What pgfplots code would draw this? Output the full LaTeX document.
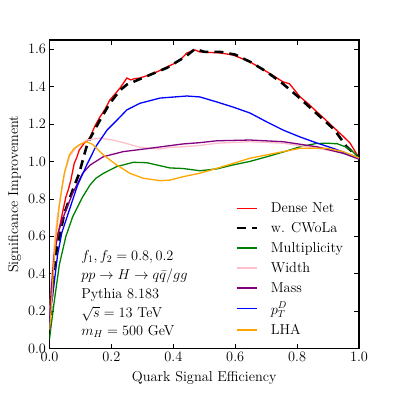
\documentclass[border=0pt]{standalone}
\usepackage{pgfplots}
\pgfplotsset{compat=1.18}

\definecolor{mplgreen}{HTML}{008000}
\definecolor{mplpink}{HTML}{FFC0CB}
\definecolor{mplpurple}{HTML}{800080}
\definecolor{mplorange}{HTML}{FFA500}

\newcommand{\bigfont}{\fontsize{14.4}{17}\selectfont}

\begin{document}
\begin{tikzpicture}
  \begin{axis}[
    scale only axis,
    width=309.5bp, height=308.7bp,
    xmin=0, xmax=1, ymin=0, ymax=1.648,
    xtick={0,0.2,...,1.0}, ytick={0,0.2,...,1.6},
    xticklabel style={/pgf/number format/.cd, fixed, fixed zerofill, precision=1},
    yticklabel style={/pgf/number format/.cd, fixed, fixed zerofill, precision=1},
    tick align=inside, major tick length=5bp,
    axis line style={line width=1.2pt},
    tick style={line width=0.6pt, black},
    xlabel={Quark Signal Efficiency},
    ylabel={Significance Improvement},
    xlabel style={yshift=-3bp},
    tick label style={font=\bigfont},
    label style={font=\bigfont},
    legend style={draw=none, fill=none, at={(rel axis cs:0.59,0.487)}, anchor=north west,
      font=\bigfont, row sep=4.5bp,
      /tikz/every odd column/.append style={column sep=11bp}},
    legend cell align=left,
    legend image code/.code={\draw[#1] (0bp,0bp) -- (20bp,0bp);},
    every axis plot/.append style={line width=1.3pt},
  ]
    % Dense Net
    \addplot[red] coordinates {
      (0,0.12) (0.005,0.3) (0.012,0.45) (0.02,0.55) (0.03,0.63) (0.037,0.686)
      (0.045,0.75) (0.053,0.81) (0.061,0.85) (0.069,0.9) (0.08,0.99) (0.088,1.02)
      (0.096,1.06) (0.112,1.097) (0.122,1.11) (0.131,1.13) (0.147,1.19) (0.163,1.237)
      (0.18,1.28) (0.195,1.328) (0.212,1.36) (0.228,1.392) (0.25,1.445) (0.262,1.435)
      (0.275,1.442) (0.292,1.445) (0.31,1.455) (0.324,1.461) (0.35,1.48) (0.38,1.504)
      (0.4,1.52) (0.422,1.541) (0.444,1.579) (0.47,1.595) (0.486,1.584) (0.51,1.582)
      (0.551,1.579) (0.593,1.568) (0.62,1.55) (0.648,1.531) (0.675,1.505) (0.703,1.478)
      (0.73,1.45) (0.755,1.424) (0.775,1.415) (0.81,1.344) (0.838,1.305) (0.864,1.264)
      (0.89,1.225) (0.916,1.184) (0.945,1.14) (0.971,1.098) (1.0,1.018)
    };
    \addlegendentry{Dense Net}
    % w. CWoLa
    \addplot[black, line width=2.6pt, dash pattern=on 9bp off 6bp] coordinates {
      (0,0.1) (0.01,0.35) (0.02,0.5) (0.035,0.62) (0.048,0.723) (0.075,0.847)
      (0.096,0.936) (0.112,1.034) (0.123,1.097) (0.14,1.15) (0.163,1.22) (0.195,1.31)
      (0.228,1.38) (0.25,1.41) (0.3,1.445) (0.38,1.5) (0.44,1.56) (0.47,1.6)
      (0.5,1.585) (0.55,1.585) (0.6,1.57) (0.65,1.53) (0.7,1.48) (0.75,1.42)
      (0.8,1.35) (0.86,1.26) (0.92,1.17) (0.96,1.078) (1.0,1.02)
    };
    \addlegendentry{w. CWoLa}
    % Multiplicity
    \addplot[mplgreen] coordinates {
      (0,0.05) (0.005,0.12) (0.016,0.26) (0.032,0.45) (0.053,0.6) (0.075,0.705)
      (0.107,0.81) (0.131,0.874) (0.15,0.91) (0.174,0.936) (0.217,0.972) (0.271,0.995)
      (0.314,0.993) (0.389,0.965) (0.431,0.962) (0.486,0.95) (0.541,0.96) (0.593,0.981)
      (0.648,1.0) (0.703,1.025) (0.755,1.05) (0.81,1.078) (0.86,1.095) (0.896,1.097)
      (0.93,1.094) (0.96,1.075) (0.98,1.052) (1.0,1.018)
    };
    \addlegendentry{Multiplicity}
    % Width
    \addplot[mplpink] coordinates {
      (0,0.15) (0.005,0.35) (0.015,0.55) (0.025,0.7) (0.04,0.85) (0.05,0.95)
      (0.066,1.03) (0.088,1.077) (0.12,1.114) (0.163,1.124) (0.205,1.114) (0.25,1.095)
      (0.292,1.075) (0.325,1.07) (0.357,1.066) (0.389,1.075) (0.431,1.078) (0.486,1.085)
      (0.541,1.097) (0.648,1.105) (0.755,1.097) (0.864,1.07) (0.949,1.045) (1.0,1.018)
    };
    \addlegendentry{Width}
    % Mass
    \addplot[mplpurple] coordinates {
      (0,0.1) (0.005,0.3) (0.015,0.5) (0.028,0.62) (0.04,0.68) (0.053,0.74)
      (0.075,0.83) (0.107,0.936) (0.131,0.98) (0.15,1.0) (0.174,1.025) (0.238,1.052)
      (0.325,1.07) (0.389,1.084) (0.431,1.093) (0.486,1.1) (0.541,1.11) (0.648,1.114)
      (0.755,1.105) (0.864,1.078) (0.949,1.043) (1.0,1.012)
    };
    \addlegendentry{Mass}
    % pT^D
    \addplot[blue] coordinates {
      (0,0.1) (0.003,0.2) (0.01,0.28) (0.026,0.5) (0.04,0.62) (0.064,0.74)
      (0.09,0.87) (0.12,0.98) (0.15,1.08) (0.186,1.167) (0.218,1.22) (0.25,1.275)
      (0.292,1.31) (0.357,1.338) (0.444,1.349) (0.486,1.344) (0.541,1.317) (0.593,1.29)
      (0.648,1.258) (0.703,1.21) (0.755,1.167) (0.81,1.13) (0.864,1.098) (0.916,1.07)
      (1.0,1.018)
    };
    \addlegendentry{$p_T^D$}
    % LHA
    \addplot[mplorange] coordinates {
      (0,0.1) (0.003,0.15) (0.007,0.25) (0.012,0.4) (0.018,0.55) (0.023,0.63)
      (0.032,0.77) (0.04,0.86) (0.048,0.936) (0.064,1.034) (0.08,1.07) (0.096,1.088)
      (0.118,1.105) (0.131,1.097) (0.14,1.09) (0.174,1.034) (0.217,0.981) (0.26,0.936)
      (0.303,0.91) (0.357,0.897) (0.389,0.9) (0.431,0.918) (0.486,0.937) (0.541,0.963)
      (0.648,1.017) (0.755,1.052) (0.81,1.07) (0.896,1.07) (0.949,1.052) (1.0,1.018)
    };
    \addlegendentry{LHA}

    \node[anchor=west, inner sep=0pt, font=\bigfont] at (axis cs:0.102,0.49) {$f_1, f_2 = 0.8, 0.2$};
    \node[anchor=west, inner sep=0pt, font=\bigfont] at (axis cs:0.102,0.388) {$pp \to H \to q\bar{q}/gg$};
    \node[anchor=west, inner sep=0pt, font=\bigfont] at (axis cs:0.102,0.287) {Pythia 8.183};
    \node[anchor=west, inner sep=0pt, font=\bigfont] at (axis cs:0.102,0.185) {$\sqrt{s} = 13$ TeV};
    \node[anchor=west, inner sep=0pt, font=\bigfont] at (axis cs:0.102,0.094) {$m_H = 500$ GeV};
  \end{axis}
  \path[use as bounding box] ([xshift=-49.5bp,yshift=-50.3bp]current axis.south west)
    rectangle ([xshift=40bp,yshift=40bp]current axis.north east);
\end{tikzpicture}
\end{document}
